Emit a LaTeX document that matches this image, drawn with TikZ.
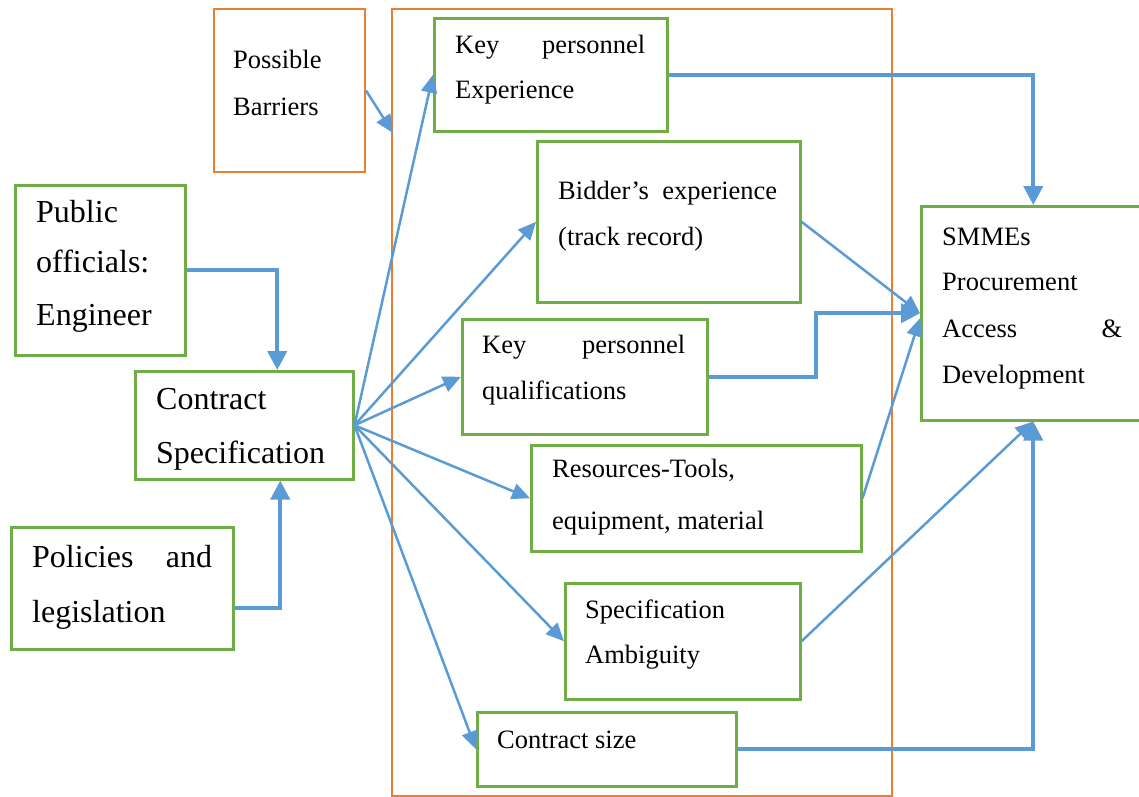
\documentclass[tikz,border=0pt]{standalone}
\usepackage{fontspec}
\setmainfont{Liberation Serif}
\usetikzlibrary{arrows.meta}
\definecolor{linkblue}{HTML}{5B9BD5}
\definecolor{boxgreen}{HTML}{70AD47}
\definecolor{boxorange}{HTML}{ED7D31}
% a line of text spread to a given width
\newcommand\spreadline[3]{\hbox to #1{#2\hfill #3}}
\tikzset{
  gbox/.style={draw=boxgreen, line width=2.5pt, anchor=north west, inner sep=0pt},
  obox/.style={draw=boxorange, line width=2pt, anchor=north west, inner sep=0pt},
  txt/.style={anchor=base west, inner sep=0pt, font=\fontsize{26.5}{30}\selectfont},
  bigtxt/.style={anchor=base west, inner sep=0pt, font=\fontsize{32}{36}\selectfont},
  thickarrow/.style={draw=linkblue, line width=4pt, -{Triangle[length=19pt,width=19pt]}},
  thinarrow/.style={draw=linkblue, line width=2.5pt, -{Triangle[length=18pt,width=16pt]}},
}
\begin{document}
\begin{tikzpicture}[x=1pt, y=-1pt]
\useasboundingbox (0,0) rectangle (1139,796);

% boxes
\node[obox, minimum width=151pt, minimum height=163pt] (bar) at (213,8) {};
\node[obox, minimum width=500pt, minimum height=787pt] (frame) at (391,8) {};
\node[gbox, minimum width=233pt, minimum height=113pt] (kpe) at (433,17) {};
\node[gbox, minimum width=263pt, minimum height=161pt] (bid) at (536,140) {};
\node[gbox, minimum width=245pt, minimum height=115pt] (qual) at (461,318) {};
\node[gbox, minimum width=330pt, minimum height=106pt] (res) at (530,444) {};
\node[gbox, minimum width=235pt, minimum height=116pt] (spec) at (564,582) {};
\node[gbox, minimum width=259pt, minimum height=74pt] (csize) at (476,711) {};
\node[gbox, minimum width=224pt, minimum height=214pt] (smmes) at (920,205) {};
\node[gbox, minimum width=170pt, minimum height=170pt] (pub) at (14,184) {};
\node[gbox, minimum width=218pt, minimum height=108pt] (cs) at (134,370) {};
\node[gbox, minimum width=222pt, minimum height=122pt] (pol) at (10,526) {};

% texts
\node[txt] (bar-a) at (233,68) {Possible};
\node[txt] (bar-b) at (233,115) {Barriers};
\node[txt] (kpe-a) at (455,53) {\spreadline{190pt}{Key}{personnel}};
\node[txt] (kpe-b) at (455,98) {Experience};
\node[txt] (bid-a) at (558,199) {\spreadline{219pt}{Bidder’s}{experience}};
\node[txt] (bid-b) at (558,245) {(track record)};
\node[txt] (qual-a) at (482,353) {\spreadline{203pt}{Key}{personnel}};
\node[txt] (qual-b) at (482,399) {qualifications};
\node[txt] (res-a) at (552,477) {Resources-Tools,};
\node[txt] (res-b) at (552,529) {equipment, material};
\node[txt] (spec-a) at (585,618) {Specification};
\node[txt] (spec-b) at (585,663) {Ambiguity};
\node[txt] (csize-a) at (497,748) {Contract size};
\node[txt] (smmes-a) at (942,245) {SMMEs};
\node[txt] (smmes-b) at (942,290) {Procurement};
\node[txt] (smmes-c) at (942,337) {\spreadline{180pt}{Access}{\&}};
\node[txt] (smmes-d) at (942,383) {Development};
\node[bigtxt] (pub-a) at (36,222) {Public};
\node[bigtxt] (pub-b) at (36,272) {officials:};
\node[bigtxt] (pub-c) at (36,325) {Engineer};
\node[bigtxt] (cs-a) at (156,409) {Contract};
\node[bigtxt] (cs-b) at (156,463) {Specification};
\node[bigtxt] (pol-a) at (32,567) {\spreadline{180pt}{Policies}{and}};
\node[bigtxt] (pol-b) at (32,622) {legislation};

% inputs to the contract specification
\draw[thickarrow] (pub.east) -| ([xshift=33pt]cs.north);
\draw[thickarrow] ([yshift=-20pt]pol.east) -| ([xshift=36pt]cs.south);

% barriers pointing into the frame
\coordinate (bartip) at (393,133);
\draw[thinarrow] (bar.east) -- (bartip);

% fan from the contract specification
\draw[thinarrow] (cs.east) -- (kpe.west);
\draw[thinarrow] (cs.east) -- (bid.west);
\draw[thinarrow] (cs.east) -- (qual.west);
\draw[thinarrow] (cs.east) -- (res.west);
\draw[thinarrow] (cs.east) -- (spec.west);
\draw[thinarrow] (cs.east) -- (csize.west);

% links to SMMEs procurement access
\draw[thickarrow] (kpe.east) -| (smmes.north);
\draw[thinarrow] (bid.east) -- (smmes.west);
\draw[thickarrow] (qual.east) -- ++(107,0) |- (smmes.west);
\draw[thinarrow] (res.east) -- ([yshift=-5pt]smmes.west);
\draw[thinarrow] (spec.east) -- (smmes.south);
\draw[thickarrow] (csize.east) -| (smmes.south);
\end{tikzpicture}
\end{document}
